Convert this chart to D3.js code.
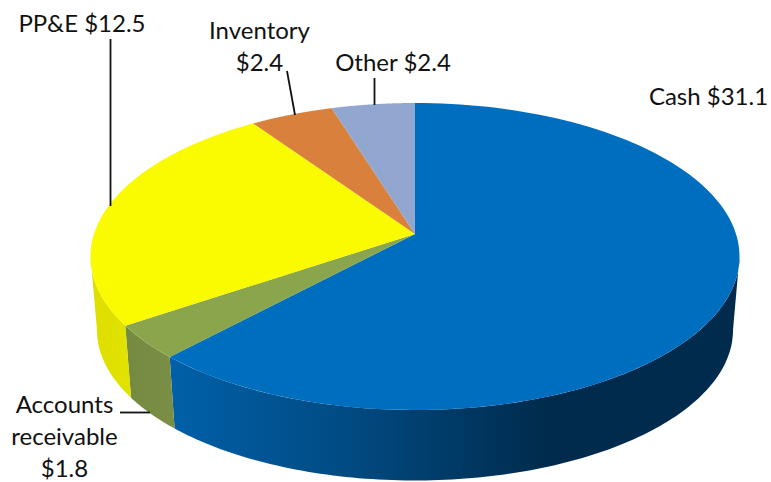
<!DOCTYPE html>
<html>
<head>
<meta charset="utf-8">
<script src="https://cdn.jsdelivr.net/npm/d3@7"></script>
<style>
html,body{margin:0;padding:0;background:#fff}
svg{display:block}
text{font-family:Lato,"Open Sans",sans-serif;font-size:24px;fill:#111}
</style>
</head>
<body>
<svg id="chart" width="771" height="482"></svg>
<script>
// Balance sheet assets, $ millions, clockwise from twelve o'clock
const categories = ["Cash", "Accounts receivable", "PP&E", "Inventory", "Other"];
const values = [31.1, 1.8, 12.5, 2.4, 2.4];
const topColors = ["#006EBF", "#8BA54C", "#FAFA00", "#D9803C", "#92A7CF"];
const wallStops = [
  [[0, "#0160A8"], [0.5, "#014980"], [1, "#002B4D"]],
  [[0, "#748A40"], [1, "#7A8F45"]],
  [[0, "#DEDE00"], [1, "#E2E200"]]
];

const width = 771, height = 482;
const svg = d3.select("#chart");
const defs = svg.append("defs");

// Tilted disc: a unit circle seen in perspective, with the lower face pulled slightly inward
const cx = 415, cy = 234;
const persp = -0.1466, kx = 321, ky = 150.2;
const shrink = 0.98, drop = 74;

const project = (a) => {
  const u = Math.sin(a), v = -Math.cos(a), w = 1 + persp * v;
  return [cx + kx * u / w, cy + ky * v / w];
};
const lower = ([x, y]) => [cx + (x - cx) * shrink, cy + (y - cy) * shrink + drop];

// Angles where the rim reaches its right and left extremes; the wall is only visible between them
const rightEdge = Math.acos(persp), leftEdge = 2 * Math.PI - rightEdge;

const arcs = d3.pie().sort(null).value(d => d)(values);
const samples = (a0, a1) => d3.range(0, 121).map(i => a0 + (a1 - a0) * i / 120);
const outline = d3.line();

// Front wall pieces, each shaded left to right
const walls = svg.append("g");
arcs.slice(0, 3).forEach((arc, i) => {
  const a0 = Math.max(arc.startAngle, rightEdge), a1 = Math.min(arc.endAngle, leftEdge);
  const rim = samples(a0, a1).map(project);
  const id = "wall" + i;
  const xs = rim.map(p => p[0]);
  const grad = defs.append("linearGradient").attr("id", id)
    .attr("gradientUnits", "userSpaceOnUse")
    .attr("x1", i === 0 ? 170 : d3.min(xs)).attr("x2", i === 0 ? 545 : d3.max(xs))
    .attr("y1", 0).attr("y2", 0);
  wallStops[i].forEach(s => grad.append("stop").attr("offset", s[0]).attr("stop-color", s[1]));
  walls.append("path")
    .attr("d", outline(rim.concat(rim.map(lower).reverse())) + "Z")
    .attr("fill", `url(#${id})`);
});

// Top faces
const faces = svg.append("g");
arcs.forEach((arc, i) => {
  const rim = samples(arc.startAngle, arc.endAngle).map(project);
  faces.append("path")
    .attr("d", outline([[cx, cy]].concat(rim)) + "Z")
    .attr("fill", topColors[i]);
});

// Leader lines
const leaders = [
  [110.5, 39, 110.5, 206],
  [287, 71, 295, 115],
  [374.5, 78, 374.5, 105],
  [120, 412.5, 150, 412.5]
];
svg.append("g").selectAll("line").data(leaders).join("line")
  .attr("x1", d => d[0]).attr("y1", d => d[1])
  .attr("x2", d => d[2]).attr("y2", d => d[3])
  .attr("stroke", "#111").attr("stroke-width", 1.8);

// Labels
const money = v => "$" + v;
const labels = [
  { lines: [`Cash ${money(values[0])}`], x: 708.5, y: 105 },
  { lines: ["Accounts", "receivable", money(values[1])], x: 64.5, y: 413 },
  { lines: [`PP&E ${money(values[2])}`], x: 82, y: 31.5 },
  { lines: ["Inventory", money(values[3])], x: 259.5, y: 38.5 },
  { lines: [`Other ${money(values[4])}`], x: 393, y: 71 }
];
const lineGap = 32;
labels.forEach(l => {
  const t = svg.append("text").attr("text-anchor", "middle");
  l.lines.forEach((s, i) => t.append("tspan").attr("x", l.x).attr("y", l.y + i * lineGap).text(s));
});
</script>
</body>
</html>
